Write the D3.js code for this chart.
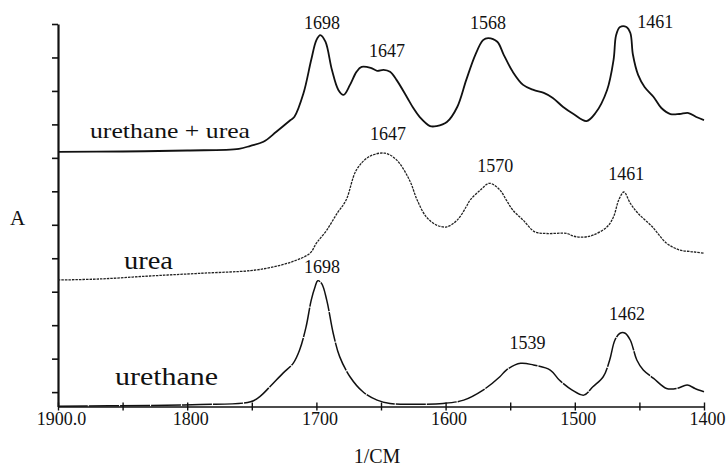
<!DOCTYPE html>
<html>
<head>
<meta charset="utf-8">
<script src="https://cdn.jsdelivr.net/npm/d3@7"></script>
<style>
  body { margin: 0; background: #fff; }
  text { font-family: "Liberation Serif", "Times New Roman", serif; fill: #111; }
</style>
</head>
<body>
<div id="chart"></div>
<script>
// wavenumbers (1/cm) and stacked absorbance (tick units)
var wnUrethaneUrea = [1900,1850,1800,1760,1751,1741,1731,1720,1717,1710,1704,1700,1697,1693,1688,1683,1679,1674,1669,1665,1658,1653,1648,1643,1638,1630,1625,1620,1612,1607,1599,1591,1584,1577,1571,1567,1560,1555,1548,1540,1532,1524,1517,1509,1501,1491,1484,1475,1470,1468,1465,1460,1457,1455,1451,1446,1439,1433,1426,1419,1412,1406,1400];
var absUrethaneUrea = [7.18,7.19,7.22,7.27,7.36,7.48,7.78,8.13,8.23,8.93,9.93,10.52,10.67,10.47,9.63,9.03,8.88,9.18,9.57,9.72,9.69,9.60,9.63,9.57,9.33,8.82,8.49,8.22,7.95,7.95,8.07,8.52,9.33,10.08,10.52,10.58,10.47,10.08,9.57,9.18,9.03,8.94,8.79,8.52,8.31,8.10,8.34,9.03,9.93,10.67,10.91,10.91,10.73,10.08,9.48,9.12,8.82,8.49,8.31,8.31,8.34,8.22,8.13];

var wnUrea = [1900,1868,1829,1790,1751,1736,1720,1705,1700,1692,1684,1677,1669,1659,1647,1638,1628,1622,1615,1607,1599,1591,1584,1581,1573,1566,1558,1553,1548,1540,1531,1522,1506,1501,1494,1486,1475,1470,1466,1462,1457,1451,1440,1429,1419,1408,1400];
var absUrea = [3.35,3.38,3.47,3.55,3.63,3.72,3.88,4.15,4.45,4.84,5.34,5.74,6.64,7.04,7.14,6.94,6.34,5.74,5.24,4.99,4.94,5.14,5.54,5.74,6.04,6.24,6.04,5.74,5.44,5.14,4.79,4.74,4.74,4.66,4.63,4.69,4.94,5.24,5.74,5.98,5.64,5.34,4.94,4.45,4.25,4.19,4.15];

var wnUrethane = [1900,1829,1790,1751,1744,1736,1726,1718,1713,1708,1704,1701,1699,1696,1692,1687,1682,1674,1664,1653,1643,1622,1602,1586,1571,1558,1553,1542,1532,1519,1512,1502,1493,1486,1478,1473,1469,1465,1461,1457,1452,1447,1439,1429,1421,1413,1407,1400];
var absUrethane = [-0.42,-0.40,-0.37,-0.29,-0.14,0.16,0.56,0.86,1.26,1.95,2.75,3.15,3.33,3.25,2.75,1.76,1.06,0.46,0.01,-0.24,-0.34,-0.36,-0.34,-0.24,0.06,0.46,0.66,0.86,0.81,0.66,0.36,0.06,-0.09,0.16,0.46,0.96,1.55,1.76,1.76,1.55,0.96,0.66,0.41,0.11,0.11,0.21,0.11,0.01];

var seriesNames = ["urethane + urea", "urea", "urethane"];

// peak annotations: which series, and the wavenumber printed
var peakSeries = [0, 0, 0, 0, 1, 1, 1, 2, 2, 2];
var peakWn = [1698, 1647, 1568, 1461, 1647, 1570, 1461, 1698, 1539, 1462];

var xMajorTicks = [1900, 1800, 1700, 1600, 1500, 1400];
var xTickLabels = ["1900.0", "1800", "1700", "1600", "1500", "1400"];
var xMinorTicks = [1850, 1750, 1650, 1550, 1450];
var yTicks = [0, 1, 2, 3, 4, 5, 6, 7, 8, 9, 10, 11];

var serif = "'Liberation Serif', 'Times New Roman', serif";
var width = 728, height = 467;
var svg = d3.select("#chart").append("svg")
    .attr("width", width)
    .attr("height", height);
svg.append("rect").attr("width", width).attr("height", height).attr("fill", "#fff");

var x = d3.scaleLinear().domain([1900, 1400]).range([58, 704]);
var y = d3.scaleLinear().domain([-0.43, 11]).range([406.5, 24]);

// x axis: ticks cross the line
var xAxis = svg.append("g")
    .attr("transform", "translate(0," + y(-0.43) + ")")
    .call(d3.axisBottom(x)
        .tickValues(xMajorTicks.concat(xMinorTicks))
        .tickSizeOuter(0)
        .tickFormat(function(d) {
          var i = xMajorTicks.indexOf(d);
          return i >= 0 ? xTickLabels[i] : "";
        }));
xAxis.attr("font-family", serif).attr("font-size", 18);
xAxis.select(".domain").attr("stroke", "#111").attr("stroke-width", 1.6);
xAxis.selectAll(".tick line").attr("y1", -4).attr("y2", 4).attr("stroke", "#111").attr("stroke-width", 1.4);
xAxis.selectAll(".tick text")
    .attr("y", 6)
    .attr("dx", 3)
    .style("font-size", "18px")
    .style("font-family", serif)
    .attr("fill", "#111");

// y axis, no labels
var yAxis = svg.append("g")
    .attr("transform", "translate(" + x(1900) + ",0)")
    .call(d3.axisLeft(y).tickValues(yTicks).tickSize(6).tickSizeOuter(0).tickFormat(""));
yAxis.select(".domain").attr("stroke", "#111").attr("stroke-width", 2.2);
yAxis.selectAll(".tick line").attr("stroke", "#111").attr("stroke-width", 1.6);

svg.append("text")
    .attr("x", 17.5)
    .attr("y", 225)
    .attr("text-anchor", "middle")
    .style("font-size", "21px")
    .text("A");

svg.append("text")
    .attr("x", 377)
    .attr("y", 463)
    .attr("text-anchor", "middle")
    .style("font-size", "20px")
    .text("1/CM");

// spectra
var series = [
  { wn: wnUrethaneUrea, a: absUrethaneUrea },
  { wn: wnUrea, a: absUrea },
  { wn: wnUrethane, a: absUrethane }
];
var lineStyles = [
  { width: 1.8, dash: null, color: "#111" },
  { width: 1.3, dash: "2.5,1", color: "#222" },
  { width: 1.5, dash: "30,1", color: "#111" }
];

var line = d3.line()
    .curve(d3.curveCatmullRom.alpha(0.5))
    .x(function(d) { return x(d[0]); })
    .y(function(d) { return y(d[1]); });

series.forEach(function(s, i) {
  var pts = s.wn.map(function(w, j) { return [w, s.a[j]]; });
  svg.append("path")
      .datum(pts)
      .attr("fill", "none")
      .attr("stroke", lineStyles[i].color)
      .attr("stroke-width", lineStyles[i].width)
      .attr("stroke-dasharray", lineStyles[i].dash)
      .attr("stroke-linejoin", "round")
      .attr("d", line);
});

// series names
var nameLayout = [
  { x: 90, y: 138, size: 22, len: 160 },
  { x: 124, y: 269, size: 25, len: 49 },
  { x: 115, y: 385, size: 25, len: 103 }
];
seriesNames.forEach(function(n, i) {
  svg.append("text")
      .attr("x", nameLayout[i].x)
      .attr("y", nameLayout[i].y)
      .attr("textLength", nameLayout[i].len)
      .attr("lengthAdjust", "spacingAndGlyphs")
      .style("font-size", nameLayout[i].size + "px")
      .text(n);
});

// value of a series at a wavenumber (linear between read points)
function valueAt(s, w) {
  for (var j = 0; j < s.wn.length - 1; j++) {
    if (s.wn[j] >= w && s.wn[j + 1] <= w) {
      var t = (s.wn[j] - w) / (s.wn[j] - s.wn[j + 1]);
      return s.a[j] + t * (s.a[j + 1] - s.a[j]);
    }
  }
  return s.a[s.a.length - 1];
}

var peakShift = [[3, -8], [2, -13], [1, -10], [30, 1], [3, -13], [11, -15], [1, -14], [3, -9], [3, -15], [3, -13]];
peakWn.forEach(function(w, i) {
  var s = series[peakSeries[i]];
  svg.append("text")
      .attr("x", x(w) + peakShift[i][0])
      .attr("y", y(valueAt(s, w)) + peakShift[i][1])
      .attr("text-anchor", "middle")
      .style("font-size", "18px")
      .text(String(w));
});
</script>
</body>
</html>
